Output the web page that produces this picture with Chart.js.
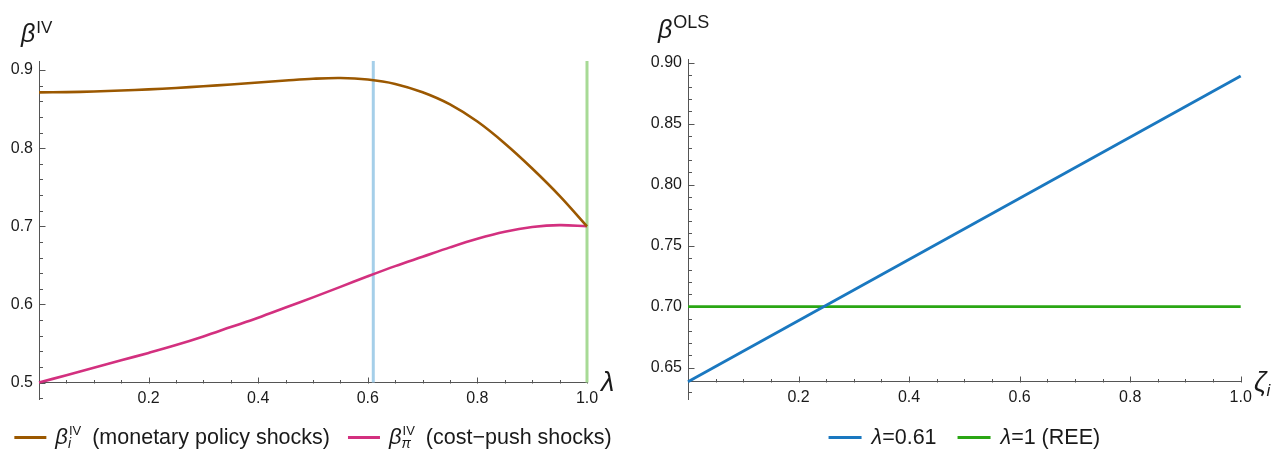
<!DOCTYPE html>
<html><head><meta charset="utf-8">
<script src="https://cdn.jsdelivr.net/npm/chart.js@4.4.1/dist/chart.umd.min.js"></script>
<style>
html,body{margin:0;padding:0;background:#fff;}
#wrap{position:relative;width:1276px;height:449px;overflow:hidden;background:#fff}
.panel{position:absolute;top:0;height:449px;width:638px}
</style></head><body>
<div id="wrap">
<div class="panel" style="left:0"><canvas id="c1"></canvas></div>
<div class="panel" style="left:638px"><canvas id="c2"></canvas></div>
</div>
<script>
// ---------- data ----------
const lambdaGrid = [0,0.05,0.1,0.15,0.2,0.25,0.3,0.35,0.4,0.45,0.5,0.55,0.6,0.65,0.7,0.75,0.8,0.85,0.9,0.95,1.0];
const betaIVmonetary = [0.8714,0.8717,0.8725,0.8737,0.8752,0.877,0.8792,0.8815,0.884,0.8865,0.8888,0.8898,0.8878,0.8822,0.8715,0.856,0.834,0.806,0.774,0.739,0.700];
const betaIVcostpush = [0.500,0.5095,0.519,0.5285,0.538,0.548,0.559,0.571,0.583,0.596,0.609,0.6225,0.636,0.649,0.661,0.673,0.684,0.693,0.699,0.7015,0.700];
const lambdaMarkers = [0.61, 1.0];
const leftXTicks = [0.2,0.4,0.6,0.8,1.0];
const leftYTicks = [0.5,0.6,0.7,0.8,0.9];

const zetaGrid = [0, 1];
const olsLambda061 = [0.6385, 0.889];
const olsREE = [0.70, 0.70];
const rightXTicks = [0.2,0.4,0.6,0.8,1.0];
const rightYTicks = [0.65,0.70,0.75,0.80,0.85,0.90];

// ---------- styles ----------
const FONT = '"Liberation Sans", Arial, sans-serif';
const BROWN = '#9b5800', PINK = '#d3307f', BLUE = '#1a78c0', GREEN = '#2aa614';
const LBLUE = '#a5cfe9', LGREEN = '#a7da95';
const AXIS = '#555555', TXT = '#1a1a1a';

function f(size, italic){ return (italic?'italic ':'') + size + 'px ' + FONT; }

function segWidth(ctx, segs){
  let w = 0;
  for (const s of segs){ ctx.font = s.font; if(!s.stack) w += ctx.measureText(s.t).width + (s.dx||0); }
  return w;
}
function drawSegs(ctx, x, y, segs){
  let cx = x;
  ctx.textBaseline = 'alphabetic'; ctx.textAlign = 'left'; ctx.fillStyle = TXT;
  for (const s of segs){
    ctx.font = s.font;
    ctx.fillText(s.t, cx + (s.dx||0), y + (s.dy||0));
    if (!s.stack) cx += ctx.measureText(s.t).width + (s.dx||0);
  }
  return cx;
}

const ticksPlugin = {
  id: 'axisTicks',
  beforeDatasetsDraw(chart, args, o){
    const ctx = chart.ctx, xs = chart.scales.x, ys = chart.scales.y;
    const ay = Math.round(ys.getPixelForValue(o.xAxisAt)) + 0.5;
    const ax = Math.round(chart.chartArea.left) + 0.5;
    ctx.save(); ctx.strokeStyle = AXIS; ctx.lineWidth = 1;
    const line = (x1,y1,x2,y2)=>{ctx.beginPath();ctx.moveTo(x1,y1);ctx.lineTo(x2,y2);ctx.stroke();};
    for (const v of o.xMinor){ const p = Math.round(xs.getPixelForValue(v))+0.5; line(p, ay, p, ay - (o.xMajor.some(m=>Math.abs(m-v)<1e-9)?6:3.5)); }
    for (const v of o.yMinor){ const p = Math.round(ys.getPixelForValue(v))+0.5; line(ax, p, ax + (o.yMajor.some(m=>Math.abs(m-v)<1e-9)?6:3.5), p); }
    ctx.restore();
  }
};

const richPlugin = {
  id: 'richText',
  afterDraw(chart, args, o){
    const ctx = chart.ctx; ctx.save();
    for (const t of o.texts) drawSegs(ctx, t.x, t.y, t.segs);
    const L = o.legend;
    const widths = L.items.map(it => L.lineLen + L.lineGap + segWidth(ctx, it.segs));
    const total = widths.reduce((a,b)=>a+b,0) + L.gap*(L.items.length-1);
    let x = (chart.chartArea.left + chart.chartArea.right)/2 - total/2 + (L.shift||0);
    L.items.forEach((it,i)=>{
      ctx.strokeStyle = it.color; ctx.lineWidth = 3;
      ctx.beginPath(); ctx.moveTo(x, L.y); ctx.lineTo(x+L.lineLen, L.y); ctx.stroke();
      drawSegs(ctx, x + L.lineLen + L.lineGap, L.baseline, it.segs);
      x += widths[i] + L.gap;
    });
    ctx.restore();
  }
};

function range(a, b, step){ const out=[]; const n=Math.round((b-a)/step); for(let k=0;k<=n;k++) out.push(+(a+k*step).toFixed(4)); return out; }

function scaleX(ticks, axisAt){
  return {
    type:'linear', min:0, max:1, position:{y:axisAt},
    grid:{display:false, drawTicks:false},
    border:{display:true, color:AXIS, width:1},
    ticks:{padding:6, color:TXT, font:{family:FONT, size:16}, maxRotation:0, autoSkip:false, callback:v=>Number(v).toFixed(1)},
    afterBuildTicks:s=>{ s.ticks = ticks.map(v=>({value:v})); },
    afterFit:s=>{ s.height = 0; }
  };
}
function scaleY(ticks, min, max, width, dec){
  return {
    type:'linear', min, max, position:'left',
    grid:{display:false, drawTicks:false},
    border:{display:true, color:AXIS, width:1},
    ticks:{padding:6, color:TXT, font:{family:FONT, size:16}, autoSkip:false, callback:v=>Number(v).toFixed(dec)},
    afterBuildTicks:s=>{ s.ticks = ticks.map(v=>({value:v})); },
    afterFit:s=>{ s.width = width; }
  };
}
const pts = (xs, ys) => xs.map((x,i)=>({x, y:ys[i]}));

const L_YMIN = 0.479, L_YMAX = 0.9115;
new Chart(document.getElementById('c1'), {
  type:'line',
  data:{ datasets:[
    {label:'β_i^IV (monetary policy shocks)', data:pts(lambdaGrid, betaIVmonetary), borderColor:BROWN, borderWidth:2.6, pointRadius:0, tension:0.35, clip:false},
    {label:'β_π^IV (cost−push shocks)', data:pts(lambdaGrid, betaIVcostpush), borderColor:PINK, borderWidth:2.6, pointRadius:0, tension:0.35, clip:false},
    {label:'λ=0.61', data:[{x:lambdaMarkers[0], y:0.5},{x:lambdaMarkers[0], y:L_YMAX}], borderColor:LBLUE, borderWidth:3, pointRadius:0, clip:false},
    {label:'λ=1', data:[{x:lambdaMarkers[1], y:0.5},{x:lambdaMarkers[1], y:L_YMAX}], borderColor:LGREEN, borderWidth:3, pointRadius:0, clip:false}
  ]},
  options:{
    responsive:true, maintainAspectRatio:false, animation:false, devicePixelRatio:1,
    layout:{padding:{left:0, top:61, right:51, bottom:50}},
    scales:{ x:scaleX(leftXTicks, 0.5), y:scaleY(leftYTicks, L_YMIN, L_YMAX, 39, 1) },
    plugins:{
      legend:{display:false}, tooltip:{enabled:false},
      axisTicks:{xAxisAt:0.5, xMajor:leftXTicks, xMinor:range(0.05,1,0.05), yMajor:leftYTicks, yMinor:range(0.48,0.9,0.02)},
      richText:{
        texts:[
          {x:21, y:42, segs:[{t:'β', font:f(25,true)}, {t:'IV', font:f(17), dy:-9, dx:1}]},
          {x:601, y:391, segs:[{t:'λ', font:f(27,true)}]}
        ],
        legend:{y:437.5, baseline:444, lineLen:32, lineGap:9, gap:18, shift:0, items:[
          {color:BROWN, segs:[{t:'β', font:f(22,true)}, {t:'i', font:f(14,true), dy:4, dx:0, stack:true}, {t:'IV', font:f(13), dy:-9, dx:1}, {t:'(monetary policy shocks)', font:f(21.5), dx:11}]},
          {color:PINK, segs:[{t:'β', font:f(22,true)}, {t:'π', font:f(14,true), dy:4, stack:true}, {t:'IV', font:f(13), dy:-9, dx:1}, {t:'(cost−push shocks)', font:f(21.5), dx:11}]}
        ]}
      }
    }
  },
  plugins:[ticksPlugin, richPlugin]
});

const R_YMIN = 0.6243, R_YMAX = 0.9029, R_XAXIS = 0.6383;
new Chart(document.getElementById('c2'), {
  type:'line',
  data:{ datasets:[
    {label:'λ=0.61', data:pts(zetaGrid, olsLambda061), borderColor:BLUE, borderWidth:2.8, pointRadius:0, clip:false},
    {label:'λ=1 (REE)', data:pts(zetaGrid, olsREE), borderColor:GREEN, borderWidth:2.8, pointRadius:0, clip:false}
  ]},
  options:{
    responsive:true, maintainAspectRatio:false, animation:false, devicePixelRatio:1,
    layout:{padding:{left:0, top:59, right:35.3, bottom:50}},
    scales:{ x:scaleX(rightXTicks, R_XAXIS), y:scaleY(rightYTicks, R_YMIN, R_YMAX, 50, 2) },
    plugins:{
      legend:{display:false}, tooltip:{enabled:false},
      axisTicks:{xAxisAt:R_XAXIS, xMajor:rightXTicks, xMinor:range(0.05,1,0.05), yMajor:rightYTicks, yMinor:range(0.63,0.9,0.01)},
      richText:{
        texts:[
          {x:20, y:38, segs:[{t:'β', font:f(25,true)}, {t:'OLS', font:f(18), dy:-10, dx:1}]},
          {x:616, y:391, segs:[{t:'ζ', font:f(27,true)}, {t:'i', font:f(17,true), dy:5}]}
        ],
        legend:{y:437.5, baseline:444, lineLen:33, lineGap:10, gap:21, shift:0, items:[
          {color:BLUE, segs:[{t:'λ', font:f(21.5,true)}, {t:'=0.61', font:f(21.5)}]},
          {color:GREEN, segs:[{t:'λ', font:f(21.5,true)}, {t:'=1 (REE)', font:f(21.5)}]}
        ]}
      }
    }
  },
  plugins:[ticksPlugin, richPlugin]
});
</script>
</body></html>
